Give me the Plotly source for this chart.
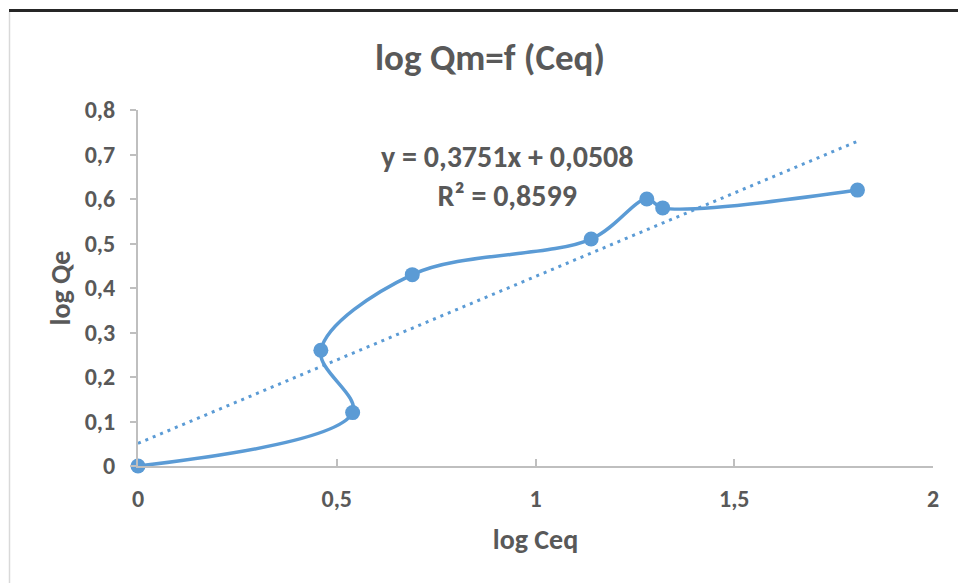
import plotly.graph_objects as go

# Data
log_ceq = [0.0, 0.54, 0.46, 0.69, 1.14, 1.28, 1.32, 1.81]
log_qe = [0.0, 0.12, 0.26, 0.43, 0.51, 0.60, 0.58, 0.62]
slope = 0.3751
intercept = 0.0508
r2 = 0.8599

x_ticks = [0, 0.5, 1, 1.5, 2]
x_tick_text = ["0", "0,5", "1", "1,5", "2"]
y_ticks = [0, 0.1, 0.2, 0.3, 0.4, 0.5, 0.6, 0.7, 0.8]
y_tick_text = ["0", "0,1", "0,2", "0,3", "0,4", "0,5", "0,6", "0,7", "0,8"]

BLUE = "#5b9bd5"
GREY_TXT = "#595959"
AXIS = "#bfbfbf"
FONT = "Carlito, Lato, sans-serif"

trend_x = [min(log_ceq), max(log_ceq)]
trend_y = [slope * v + intercept for v in trend_x]

def fmt(v, n):
    return f"{v:.{n}f}".replace(".", ",")

eq_text = f"y = {fmt(slope,4)}x + {fmt(intercept,4)}<br>R² = {fmt(r2,4)}"

fig = go.Figure()
fig.add_trace(go.Scatter(
    x=trend_x, y=trend_y, mode="lines",
    line=dict(color=BLUE, width=3, dash="3px,5px"),
    showlegend=False, hoverinfo="skip", cliponaxis=False))
fig.add_trace(go.Scatter(
    x=log_ceq, y=log_qe, mode="lines+markers",
    line=dict(color=BLUE, width=3.5, shape="spline", smoothing=1),
    marker=dict(color=BLUE, size=15),
    showlegend=False, cliponaxis=False))

W, H = 958, 583
L, R, T, B = 138, 25, 110, 117
pw, ph = W - L - R, H - T - B

def px2paper_x(p):
    return (p - L) / pw

def px2paper_y(q):
    return (H - B - q) / ph

fig.add_annotation(
    x=0.93, y=0.652, xref="x", yref="y", text=eq_text, showarrow=False,
    font=dict(family=FONT, size=30, color=GREY_TXT, weight="bold"),
    align="center")

fig.update_layout(
    width=W, height=H,
    margin=dict(l=L, r=R, t=T, b=B),
    paper_bgcolor="white", plot_bgcolor="white",
    separators=", ",
    title=dict(text="log Qm=f (Ceq)", x=(490) / W, xanchor="center",
               y=1 - 57 / H, yanchor="middle",
               font=dict(family=FONT, size=37, color=GREY_TXT, weight="bold")),
    xaxis=dict(range=[0, 2], tickvals=x_ticks, ticktext=x_tick_text,
               showgrid=False, zeroline=False, showline=True,
               linecolor=AXIS, linewidth=2, ticks="inside", ticklen=7,
               tickcolor=AXIS, tickwidth=1.5, ticklabelstandoff=10,
               tickfont=dict(family=FONT, size=24, color=GREY_TXT, weight="bold"),
               title=dict(text="log Ceq", standoff=18,
                          font=dict(family=FONT, size=28, color=GREY_TXT, weight="bold"))),
    yaxis=dict(range=[0, 0.8], tickvals=y_ticks, ticktext=y_tick_text,
               showgrid=False, zeroline=False, showline=True,
               linecolor=AXIS, linewidth=2, ticks="outside", ticklen=6,
               tickcolor=AXIS, tickwidth=1.5, ticklabelstandoff=10,
               tickfont=dict(family=FONT, size=24, color=GREY_TXT, weight="bold"),
               title=dict(text="log Qe", standoff=6,
                          font=dict(family=FONT, size=28, color=GREY_TXT, weight="bold"))),
    shapes=[
        dict(type="line", xref="paper", yref="paper",
             x0=px2paper_x(9), x1=px2paper_x(958), y0=px2paper_y(10.5), y1=px2paper_y(10.5),
             line=dict(color="#262626", width=3)),
        dict(type="line", xref="paper", yref="paper",
             x0=px2paper_x(9.5), x1=px2paper_x(9.5), y0=px2paper_y(12), y1=px2paper_y(583),
             line=dict(color="#d9d9d9", width=1.5)),
    ],
)

fig.write_html("out.html")
